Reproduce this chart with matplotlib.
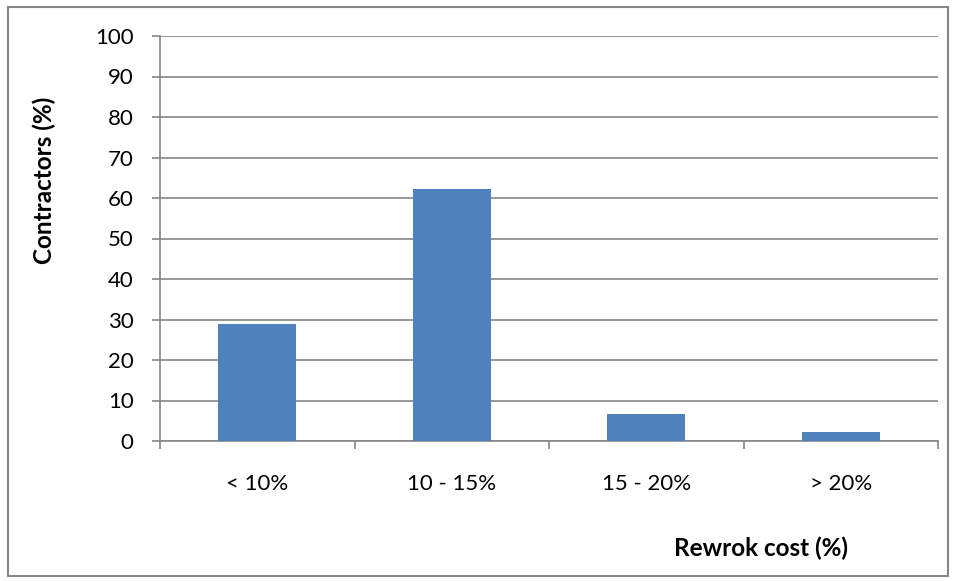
import matplotlib
matplotlib.use("Agg")
import matplotlib.pyplot as plt
from matplotlib.patches import Rectangle
import numpy as np

categories = ["< 10%", "10 - 15%", "15 - 20%", "> 20%"]
values = [28.9, 62.2, 6.7, 2.2]
yticks = [0, 10, 20, 30, 40, 50, 60, 70, 80, 90, 100]

plt.rcParams['font.family'] = ['Lato', 'DejaVu Sans']
W, H = 956, 581
fig = plt.figure(figsize=(W/100, H/100), dpi=100)
ax = fig.add_axes([160/W, (H-441)/H, (938-160)/W, (441-36)/H])

gray = "#868686"
x = np.arange(len(categories))
ax.bar(x, values, width=0.4, color="#4F81BD", zorder=3)
ax.set_xlim(-0.5, len(categories)-0.5)
ax.set_ylim(0, 100)
ax.set_yticks(yticks)
ax.yaxis.grid(True, color=gray, linewidth=1.2, zorder=0)
for s in ["top", "right"]:
    ax.spines[s].set_visible(False)
for s in ["left", "bottom"]:
    ax.spines[s].set_color(gray)
    ax.spines[s].set_linewidth(1.2)
ax.tick_params(axis="y", length=6, width=1.2, color=gray, labelsize=16, pad=13)
ax.set_xticks(np.arange(len(categories)+1)-0.5)
ax.set_xticklabels([])
ax.tick_params(axis="x", which="major", length=6, width=1.2, color=gray)
ax.set_xticks(x, minor=True)
ax.set_xticklabels(categories, minor=True)
ax.tick_params(axis="x", which="minor", length=0, labelsize=16, pad=24)

fig.text(44/W, 1-180/H, "Contractors (%)", rotation=90, ha="center", va="center",
         fontsize=17.5, fontweight="bold")
fig.text(761/W, 1-548/H, "Rewrok cost (%)", ha="center", va="center",
         fontsize=17.5, fontweight="bold")

fig.patches.append(Rectangle((8/W, 1-576/H), (948-8)/W, (576-7)/H, transform=fig.transFigure,
                             fill=False, edgecolor=gray, linewidth=1.5))
fig.savefig("out.png", dpi=100)
